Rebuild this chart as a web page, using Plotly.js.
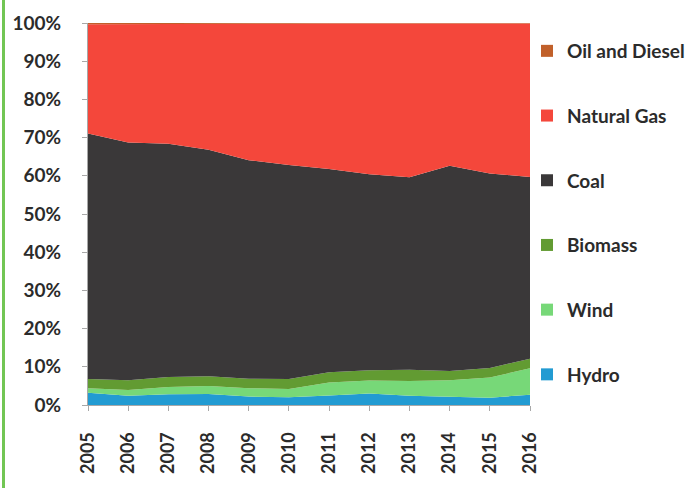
<!DOCTYPE html>
<html>
<head>
<meta charset="utf-8">
<script src="https://cdn.plot.ly/plotly-3.0.1.min.js"></script>
<style>
  html, body { margin: 0; padding: 0; background: #fff; }
  #wrap { position: relative; width: 696px; height: 488px; }
  #bar { position: absolute; left: 2px; top: 0; width: 3px; height: 488px; background: #72c654; }
  #chart { position: absolute; left: 0; top: 0; width: 696px; height: 488px; }
</style>
</head>
<body>
<div id="wrap"><div id="chart"></div><div id="bar"></div></div>
<script>
const years = ["2005","2006","2007","2008","2009","2010","2011","2012","2013","2014","2015","2016"];
const hydro   = [3.2, 2.4, 2.8, 2.9, 2.2, 2.0, 2.5, 3.0, 2.4, 2.1, 1.9, 2.7];
const wind    = [1.2, 1.5, 1.9, 2.1, 2.2, 2.2, 3.4, 3.4, 3.9, 4.4, 5.3, 6.9];
const biomass = [2.4, 2.6, 2.6, 2.5, 2.5, 2.6, 2.7, 2.7, 2.9, 2.4, 2.5, 2.5];
const coal    = [64.3, 62.2, 61.1, 59.3, 57.2, 56.0, 53.2, 51.3, 50.4, 53.7, 50.9, 47.6];
const gas     = [28.6, 31.0, 31.4, 33.0, 35.7, 37.0, 38.1, 39.5, 40.3, 37.3, 39.3, 40.2];
const oil     = [0.3, 0.3, 0.2, 0.2, 0.2, 0.2, 0.1, 0.1, 0.1, 0.1, 0.1, 0.1];
const yTicks = [0,10,20,30,40,50,60,70,80,90,100];
const yTickText = ["0%","10%","20%","30%","40%","50%","60%","70%","80%","90%","100%"];

const series = [
  {name: "Hydro", y: hydro, color: "#229bd2"},
  {name: "Wind", y: wind, color: "#77d878"},
  {name: "Biomass", y: biomass, color: "#629b32"},
  {name: "Coal", y: coal, color: "#3a3839"},
  {name: "Natural Gas", y: gas, color: "#f4473b"},
  {name: "Oil and Diesel", y: oil, color: "#c1602a"}
];

const traces = [];
series.forEach(s => {
  traces.push({
    type: "scatter", mode: "lines", x: years, y: s.y, name: s.name,
    stackgroup: "one", fillcolor: s.color,
    line: {width: 0, color: s.color, shape: "linear"},
    showlegend: false, hoverinfo: "x+y+name"
  });
});
series.slice().reverse().forEach(s => {
  traces.push({
    type: "scatter", mode: "markers", x: [null], y: [null], name: s.name,
    legendgroup: s.name,
    marker: {symbol: "square", size: 12, color: s.color},
    showlegend: true
  });
});

const font = "Lato, 'Open Sans', sans-serif";
const layout = {
  width: 696, height: 488,
  margin: {l: 88, r: 166, t: 23, b: 83, autoexpand: false},
  paper_bgcolor: "#fff", plot_bgcolor: "#fff",
  font: {family: font, color: "#2b2b2b", size: 18, weight: 700},
  showlegend: true,
  legend: {
    x: 1 - 3 / 442, xanchor: "left", y: 1 - 9 / 382, yanchor: "top",
    xref: "paper", yref: "paper",
    traceorder: "grouped", tracegroupgap: 37,
    font: {family: font, size: 19, color: "#2b2b2b", weight: 700},
    itemwidth: 30, bgcolor: "rgba(0,0,0,0)"
  },
  xaxis: {
    type: "category", tickvals: years, ticktext: years,
    range: [0, years.length - 1],
    tickangle: -90, showgrid: false, zeroline: false,
    showline: true, linecolor: "#a8a8a8", linewidth: 1,
    ticks: "outside", ticklen: 5, tickcolor: "#a8a8a8",
    ticklabelstandoff: 14,
    tickfont: {family: font, size: 18, color: "#2b2b2b", weight: 700},
    fixedrange: true
  },
  yaxis: {
    range: [0, 100], tickvals: yTicks, ticktext: yTickText,
    showgrid: false, zeroline: false,
    showline: true, linecolor: "#a8a8a8", linewidth: 1,
    ticks: "outside", ticklen: 5, tickcolor: "#a8a8a8",
    ticklabelstandoff: 17,
    tickfont: {family: font, size: 19, color: "#2b2b2b", weight: 700},
    fixedrange: true
  }
};
Plotly.newPlot("chart", traces, layout, {displayModeBar: false, staticPlot: true});
</script>
</body>
</html>
